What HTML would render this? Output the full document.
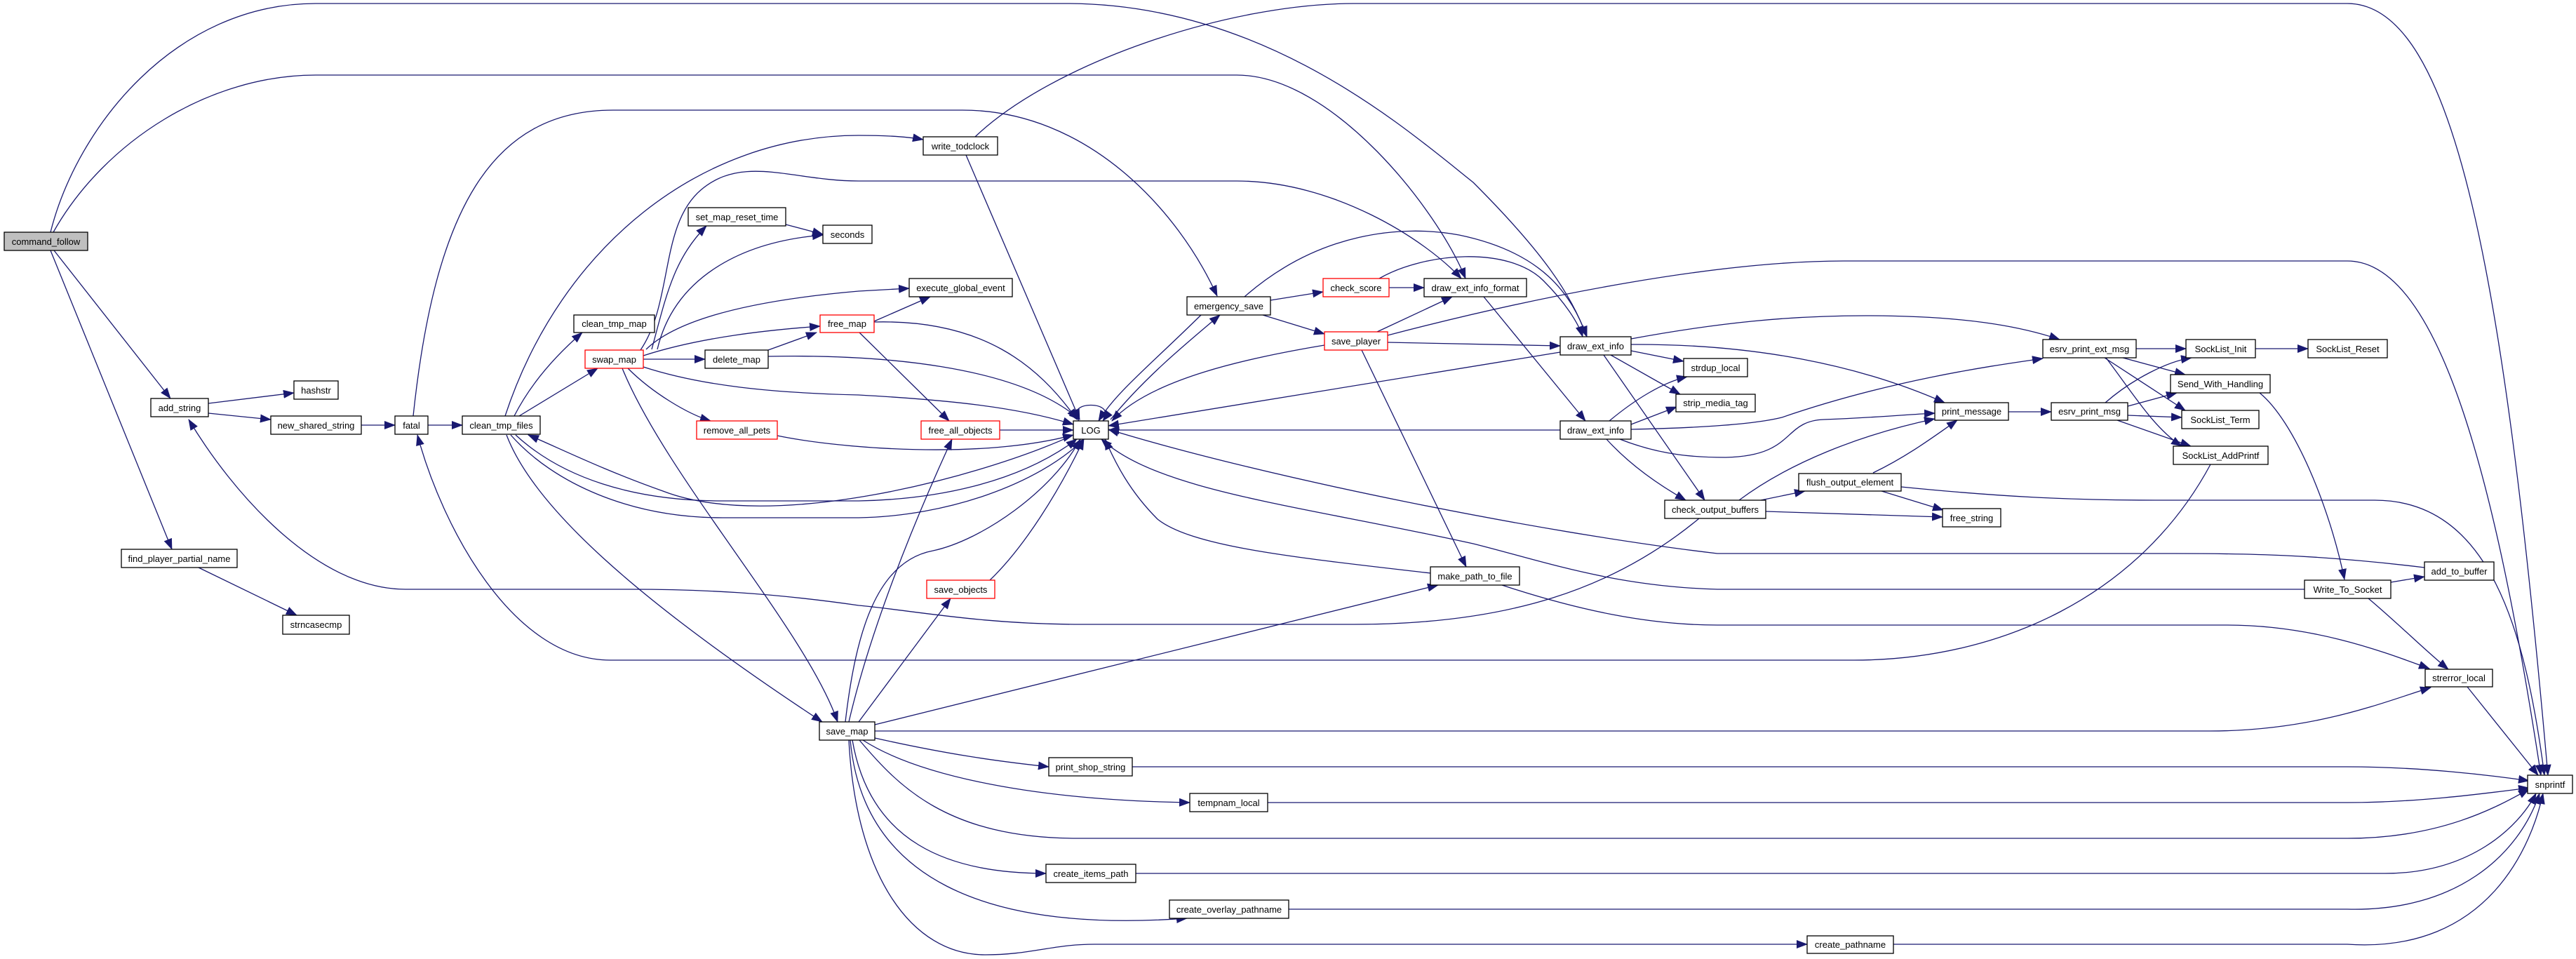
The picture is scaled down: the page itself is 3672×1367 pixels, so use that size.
<!DOCTYPE html>
<html><head><meta charset="utf-8"><style>
html,body{margin:0;padding:0;background:#fff;width:3672px;height:1367px;overflow:hidden}
svg{display:block}
text{font-family:"Liberation Sans",sans-serif;font-size:13px;fill:#000}
.e{fill:none;stroke:#191970;stroke-width:1.3;marker-end:url(#a)}
</style></head><body>
<svg width="3672" height="1367" viewBox="0 0 3672 1367" xmlns="http://www.w3.org/2000/svg">
<defs><marker id="a" markerUnits="userSpaceOnUse" markerWidth="16" markerHeight="12" refX="15" refY="6" orient="auto"><path d="M0,0 L16,6 L0,12 z" fill="#191970"/></marker></defs>
<g>
<path class="e" d="M72,331 C110,180 250,5 450,5 L1520,5 C1800,5 2000,180 2100,260 C2200,360 2240,420 2262,480"/>
<path class="e" d="M76,331 C150,200 300,107 450,107 L1763,107 C1900,107 2050,300 2089,397"/>
<path class="e" d="M1390,195 C1500,90 1750,5 1930,5 L3346,5 C3500,5 3570,400 3632,1105"/>
<path class="e" d="M1377,221 L1539,598"/>
<path class="e" d="M589,593 C620,300 700,157 874,157 L1372,157 C1550,157 1680,300 1735,422"/>
<path class="e" d="M720,593 C800,350 1000,193 1224,193 C1270,193 1300,196 1316,199"/>
<path class="e" d="M913,499 C960,430 940,320 1000,270 C1060,220 1130,258 1224,258 L1763,258 C1900,258 2030,340 2083,397"/>
<path class="e" d="M929,498 C950,420 960,370 1007,322"/>
<path class="e" d="M937,498 C960,400 1050,345 1173,335"/>
<path class="e" d="M1120,320 L1173,334"/>
<path class="e" d="M921,498 C960,460 1050,430 1224,415 L1296,411"/>
<path class="e" d="M917,507 C1000,480 1100,470 1169,465"/>
<path class="e" d="M917,512 L1005,512"/>
<path class="e" d="M917,523 C1000,550 1100,560 1224,563 C1350,570 1450,580 1530,605"/>
<path class="e" d="M895,525 C930,560 980,590 1013,600"/>
<path class="e" d="M887,525 C950,680 1150,900 1194,1029"/>
<path class="e" d="M1095,499 L1164,474"/>
<path class="e" d="M1095,508 C1250,505 1450,520 1539,598"/>
<path class="e" d="M1246,458 L1326,423"/>
<path class="e" d="M1246,459 C1400,455 1480,520 1535,598"/>
<path class="e" d="M1224,473 L1353,600"/>
<path class="e" d="M1108,621 C1200,640 1400,655 1530,620"/>
<path class="e" d="M1425,613 L1530,613"/>
<path class="e" d="M733,593 C760,540 800,500 830,474"/>
<path class="e" d="M740,593 L852,525"/>
<path class="e" d="M722,620 C760,720 900,850 1172,1029"/>
<path class="e" d="M735,620 C800,680 900,714 1030,714 L1224,714 C1330,712 1450,690 1535,626"/>
<path class="e" d="M728,620 C790,690 900,738 1030,738 L1224,738 C1350,736 1480,690 1545,626"/>
<path class="e" d="M1530,620 C1400,680 1100,760 945,700 C860,670 800,640 753,620"/>
<path class="e" d="M2422,739 C2300,840 2150,890 1930,890 L1540,890 C1400,890 1300,870 1224,863 C1100,845 1000,840 898,840 L578,840 C450,840 330,700 269,598"/>
<path class="e" d="M3151,662 C3050,850 2850,941 2643,941 L870,941 C730,941 630,750 595,620"/>
<path class="e" d="M3285,840 L2448,840 C2300,836 2200,800 2100,775 C1850,720 1650,700 1570,626"/>
<path class="e" d="M3456,809 C3300,790 3200,789 3100,789 L2448,789 C2200,760 1800,680 1580,612"/>
<path class="e" d="M1247,1042 L3150,1042 C3300,1042 3400,1000 3465,980"/>
<path class="e" d="M2141,834 C2250,870 2350,891 2448,891 L3174,891 C3300,891 3400,930 3463,953"/>
<path class="e" d="M3376,853 C3420,890 3460,930 3490,954"/>
<path class="e" d="M3517,979 L3618,1105"/>
<path class="e" d="M3408,830 L3456,822"/>
<path class="e" d="M3221,560 C3270,600 3320,720 3342,826"/>
<path class="e" d="M2710,694 C2850,708 2950,713 3072,713 L3385,713 C3550,713 3600,900 3627,1105"/>
<path class="e" d="M1978,478 C2200,420 2450,372 2628,372 L3346,372 C3480,372 3560,700 3622,1105"/>
<path class="e" d="M1774,423 C1880,330 2000,320 2080,335 C2200,360 2240,420 2262,480"/>
<path class="e" d="M1966,397 C2030,360 2150,350 2200,400 C2230,430 2250,460 2256,480"/>
<path class="e" d="M1980,410 L2030,410"/>
<path class="e" d="M1811,428 L1886,416"/>
<path class="e" d="M1800,449 L1888,476"/>
<path class="e" d="M1712,449 C1640,520 1590,560 1566,600"/>
<path class="e" d="M1583,598 C1630,540 1690,490 1739,449"/>
<path class="e" d="M1963,473 L2070,423"/>
<path class="e" d="M1978,488 L2224,493"/>
<path class="e" d="M1888,492 C1780,510 1640,540 1585,600"/>
<path class="e" d="M1941,499 L2090,808"/>
<path class="e" d="M2224,502 L1580,607"/>
<path class="e" d="M2224,613 L1580,613"/>
<path class="e" d="M2115,423 L2260,600"/>
<path class="e" d="M2325,483 C2450,460 2550,450 2659,450 C2800,450 2880,465 2936,484"/>
<path class="e" d="M2325,491 C2500,490 2650,520 2772,574"/>
<path class="e" d="M2325,500 L2400,515"/>
<path class="e" d="M2296,506 L2395,562"/>
<path class="e" d="M2286,506 L2430,713"/>
<path class="e" d="M2290,626 C2330,670 2380,700 2403,713"/>
<path class="e" d="M2294,600 C2330,570 2370,545 2405,537"/>
<path class="e" d="M2325,605 L2390,580"/>
<path class="e" d="M2325,612 C2420,610 2500,605 2540,595 C2700,540 2850,520 2912,511"/>
<path class="e" d="M2309,626 C2370,650 2420,652 2460,652 C2560,650 2540,600 2600,598 C2680,595 2730,590 2758,589"/>
<path class="e" d="M2479,713 C2550,660 2650,620 2758,597"/>
<path class="e" d="M2670,674 C2720,650 2760,620 2790,599"/>
<path class="e" d="M2510,713 L2573,700"/>
<path class="e" d="M2517,729 L2769,737"/>
<path class="e" d="M2682,700 L2770,727"/>
<path class="e" d="M2863,587 L2924,587"/>
<path class="e" d="M3045,497 L3116,497"/>
<path class="e" d="M3215,497 L3290,497"/>
<path class="e" d="M3026,510 L3115,534"/>
<path class="e" d="M3000,510 L3115,585"/>
<path class="e" d="M3002,510 C3040,560 3070,610 3110,636"/>
<path class="e" d="M3001,574 C3040,540 3090,515 3124,510"/>
<path class="e" d="M3033,579 L3103,560"/>
<path class="e" d="M3033,592 L3110,595"/>
<path class="e" d="M3018,599 L3123,636"/>
<path class="e" d="M1210,1029 C1240,900 1300,750 1357,626"/>
<path class="e" d="M2039,817 C1850,795 1700,780 1650,740 C1610,700 1590,660 1575,626"/>
<path class="e" d="M1411,827 C1460,780 1510,700 1545,626"/>
<path class="e" d="M1224,1029 L1355,853"/>
<path class="e" d="M1205,1029 C1220,900 1250,800 1330,785 C1400,770 1500,700 1540,626"/>
<path class="e" d="M1247,1033 L2050,834"/>
<path class="e" d="M1247,1052 C1350,1075 1420,1085 1495,1093"/>
<path class="e" d="M1230,1055 C1300,1100 1450,1140 1696,1144"/>
<path class="e" d="M1225,1055 C1280,1120 1350,1195 1536,1195 L3346,1195 C3480,1195 3560,1150 3605,1125"/>
<path class="e" d="M1215,1055 C1240,1200 1350,1245 1491,1245"/>
<path class="e" d="M1212,1055 C1230,1250 1400,1330 1692,1309"/>
<path class="e" d="M1210,1055 C1220,1250 1300,1361 1404,1361 C1470,1361 1500,1346 1560,1346 L2576,1346"/>
<path class="e" d="M1614,1093 L3346,1093 C3450,1093 3550,1105 3605,1113"/>
<path class="e" d="M1807,1144 L3346,1144 C3450,1144 3550,1130 3605,1123"/>
<path class="e" d="M1619,1245 L3400,1245 C3520,1245 3590,1180 3615,1131"/>
<path class="e" d="M1837,1296 L3346,1296 C3500,1300 3590,1220 3620,1131"/>
<path class="e" d="M2699,1346 L3346,1346 C3550,1360 3610,1200 3625,1131"/>
<path class="e" d="M1538,600 C1515,570 1595,570 1572,600"/>
<path class="e" d="M77,357 L243,568"/>
<path class="e" d="M72,357 L245,783"/>
<path class="e" d="M297,575 L419,560"/>
<path class="e" d="M297,589 L386,598"/>
<path class="e" d="M515,606 L563,606"/>
<path class="e" d="M610,606 L659,606"/>
<path class="e" d="M283,809 L423,877"/>
</g>
<g stroke-width="1.3">
<g stroke="#000" fill="#fff">
<rect x="6" y="331" width="119" height="26" fill="#bfbfbf"/>
<rect x="215" y="568" width="82" height="26"/>
<rect x="419" y="543" width="63" height="26"/>
<rect x="386" y="593" width="129" height="26"/>
<rect x="563" y="593" width="47" height="26"/>
<rect x="659" y="593" width="111" height="26"/>
<rect x="818" y="449" width="115" height="25"/>
<rect x="1005" y="499" width="90" height="26"/>
<rect x="981" y="296" width="139" height="26"/>
<rect x="1173" y="321" width="70" height="26"/>
<rect x="1316" y="195" width="106" height="26"/>
<rect x="1296" y="397" width="147" height="26"/>
<rect x="1692" y="423" width="119" height="26"/>
<rect x="2030" y="397" width="146" height="26"/>
<rect x="2224" y="480" width="101" height="26"/>
<rect x="2224" y="600" width="101" height="26"/>
<rect x="2400" y="511" width="91" height="26"/>
<rect x="2389" y="562" width="113" height="25"/>
<rect x="1530" y="600" width="50" height="26"/>
<rect x="2912" y="484" width="133" height="26"/>
<rect x="3116" y="484" width="99" height="26"/>
<rect x="3290" y="484" width="113" height="26"/>
<rect x="3094" y="534" width="142" height="26"/>
<rect x="2758" y="574" width="105" height="25"/>
<rect x="2924" y="574" width="109" height="25"/>
<rect x="3110" y="585" width="110" height="26"/>
<rect x="3098" y="636" width="135" height="26"/>
<rect x="2564" y="675" width="146" height="25"/>
<rect x="173" y="783" width="165" height="26"/>
<rect x="403" y="877" width="95" height="27"/>
<rect x="1168" y="1029" width="79" height="26"/>
<rect x="2039" y="808" width="127" height="26"/>
<rect x="2373" y="713" width="144" height="26"/>
<rect x="1495" y="1080" width="119" height="26"/>
<rect x="1696" y="1131" width="111" height="26"/>
<rect x="1491" y="1232" width="128" height="26"/>
<rect x="1667" y="1283" width="170" height="26"/>
<rect x="2769" y="725" width="83" height="26"/>
<rect x="3456" y="801" width="99" height="26"/>
<rect x="3285" y="827" width="123" height="26"/>
<rect x="3457" y="954" width="96" height="25"/>
<rect x="3603" y="1105" width="64" height="26"/>
<rect x="2576" y="1334" width="123" height="25"/>
</g>
<g stroke="#ff0000" fill="#fff">
<rect x="834" y="499" width="83" height="26"/>
<rect x="1169" y="449" width="77" height="25"/>
<rect x="993" y="600" width="115" height="26"/>
<rect x="1886" y="397" width="94" height="26"/>
<rect x="1888" y="473" width="90" height="26"/>
<rect x="1313" y="600" width="112" height="26"/>
<rect x="1321" y="827" width="97" height="26"/>
</g>
</g>
<g text-anchor="middle">
<text x="65.5" y="349">command_follow</text>
<text x="256" y="586">add_string</text>
<text x="450.5" y="561">hashstr</text>
<text x="450.5" y="611">new_shared_string</text>
<text x="586.5" y="611">fatal</text>
<text x="714.5" y="611">clean_tmp_files</text>
<text x="875.5" y="466">clean_tmp_map</text>
<text x="875.5" y="517">swap_map</text>
<text x="1050" y="517">delete_map</text>
<text x="1050.5" y="314">set_map_reset_time</text>
<text x="1208" y="339">seconds</text>
<text x="1207.5" y="466">free_map</text>
<text x="1050.5" y="618">remove_all_pets</text>
<text x="1369" y="213">write_todclock</text>
<text x="1369.5" y="415">execute_global_event</text>
<text x="1751.5" y="441">emergency_save</text>
<text x="1933" y="415">check_score</text>
<text x="2103" y="415">draw_ext_info_format</text>
<text x="1933" y="491">save_player</text>
<text x="2274.5" y="498">draw_ext_info</text>
<text x="2274.5" y="618">draw_ext_info</text>
<text x="2445.5" y="529">strdup_local</text>
<text x="2445.5" y="579">strip_media_tag</text>
<text x="1369" y="618">free_all_objects</text>
<text x="1555" y="618">LOG</text>
<text x="2978.5" y="502">esrv_print_ext_msg</text>
<text x="3165.5" y="502">SockList_Init</text>
<text x="3346.5" y="502">SockList_Reset</text>
<text x="3165" y="552">Send_With_Handling</text>
<text x="2810.5" y="591">print_message</text>
<text x="2978.5" y="591">esrv_print_msg</text>
<text x="3165" y="603">SockList_Term</text>
<text x="3165.5" y="654">SockList_AddPrintf</text>
<text x="2637" y="692">flush_output_element</text>
<text x="255.5" y="801">find_player_partial_name</text>
<text x="450.5" y="895">strncasecmp</text>
<text x="1207.5" y="1047">save_map</text>
<text x="1369.5" y="845">save_objects</text>
<text x="2102.5" y="826">make_path_to_file</text>
<text x="2445" y="731">check_output_buffers</text>
<text x="1554.5" y="1098">print_shop_string</text>
<text x="1751.5" y="1149">tempnam_local</text>
<text x="1555" y="1250">create_items_path</text>
<text x="1752" y="1301">create_overlay_pathname</text>
<text x="2810.5" y="743">free_string</text>
<text x="3505.5" y="819">add_to_buffer</text>
<text x="3346.5" y="845">Write_To_Socket</text>
<text x="3505" y="971">strerror_local</text>
<text x="3635" y="1123">snprintf</text>
<text x="2637.5" y="1351">create_pathname</text>
</g>
</svg>
</body></html>
